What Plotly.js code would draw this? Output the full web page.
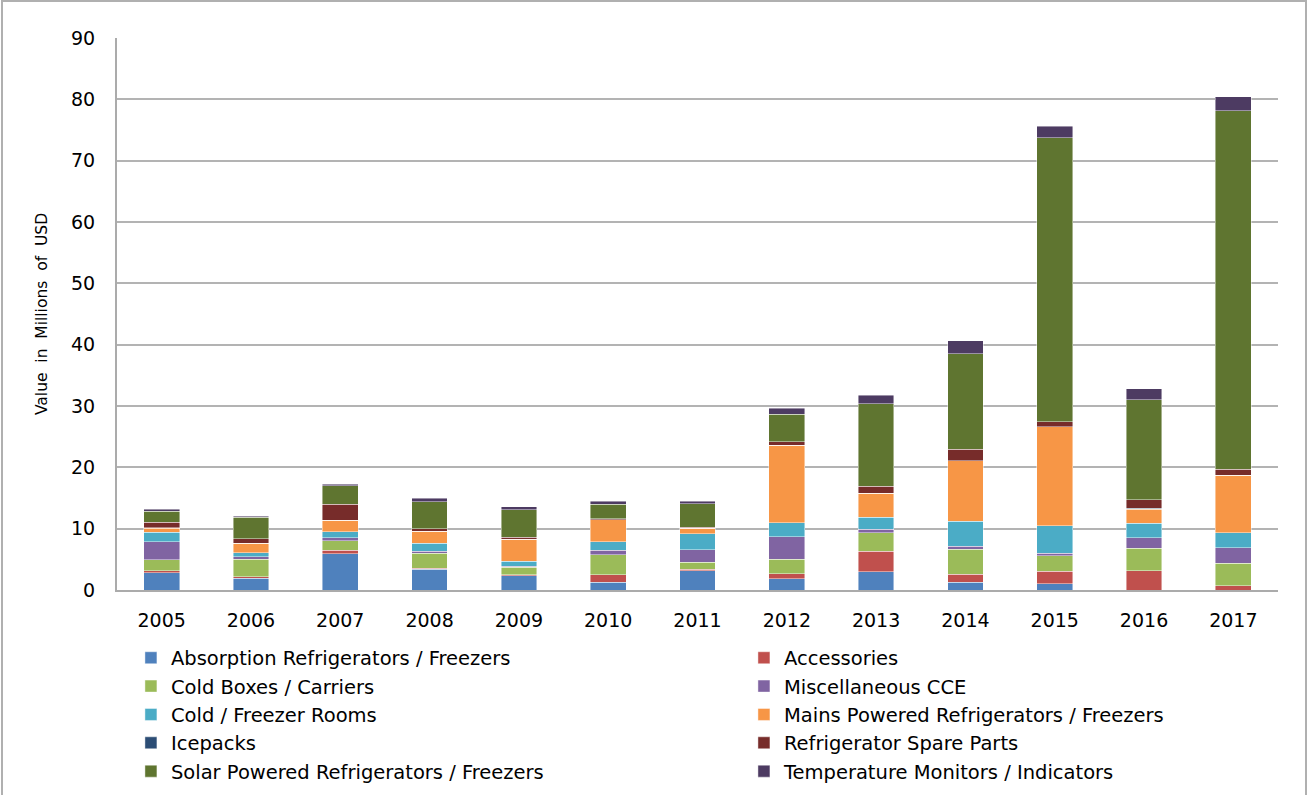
<!DOCTYPE html>
<html>
<head>
<meta charset="utf-8">
<script src="https://cdn.plot.ly/plotly-3.0.1.min.js"></script>
<style>html,body{margin:0;padding:0;background:#fff;}#chart{width:1309px;height:795px;}</style>
</head>
<body>
<div id="chart"></div>
<script>
const years = ["2005","2006","2007","2008","2009","2010","2011","2012","2013","2014","2015","2016","2017"];
const absorption = [2.8, 1.9, 5.9, 3.35, 2.35, 1.25, 3.15, 1.85, 3.0, 1.25, 1.0, 0, 0];
const accessories = [0.3, 0.25, 0.55, 0.2, 0.1, 1.2, 0.25, 0.8, 3.3, 1.3, 2.05, 3.1, 0.7];
const coldBoxes = [1.8, 2.9, 1.55, 2.45, 1.25, 3.3, 1.1, 2.35, 3.05, 4.1, 2.5, 3.7, 3.7];
const miscCCE = [3.0, 0.4, 0.5, 0.35, 0.2, 0.75, 2.05, 3.7, 0.55, 0.45, 0.45, 1.7, 2.5];
const coldRooms = [1.5, 0.65, 1.0, 1.25, 0.8, 1.35, 2.6, 2.3, 1.95, 4.1, 4.45, 2.35, 2.45];
const mainsPowered = [0.65, 1.5, 1.9, 1.95, 3.55, 3.6, 0.9, 12.6, 3.95, 9.85, 16.2, 2.3, 9.35];
const icepacks = [0.1, 0, 0, 0, 0, 0, 0, 0, 0, 0, 0, 0.2, 0];
const spareParts = [0.9, 0.75, 2.55, 0.4, 0.35, 0.15, 0.15, 0.6, 1.15, 1.9, 0.75, 1.35, 1.0];
const solarPowered = [1.75, 3.5, 3.05, 4.45, 4.45, 2.35, 3.9, 4.45, 13.45, 15.6, 46.3, 16.35, 58.4];
const tempMonitors = [0.35, 0.2, 0.25, 0.6, 0.55, 0.55, 0.35, 1.0, 1.35, 2.05, 1.95, 1.75, 2.3];
const yTicks = [0, 10, 20, 30, 40, 50, 60, 70, 80, 90];

const series = [
  ["Absorption Refrigerators / Freezers", absorption, "#4F81BD", "legend"],
  ["Accessories", accessories, "#C0504D", "legend2"],
  ["Cold Boxes / Carriers", coldBoxes, "#9BBB59", "legend"],
  ["Miscellaneous CCE", miscCCE, "#8064A2", "legend2"],
  ["Cold / Freezer Rooms", coldRooms, "#4BACC6", "legend"],
  ["Mains Powered Refrigerators / Freezers", mainsPowered, "#F79646", "legend2"],
  ["Icepacks", icepacks, "#2C4D75", "legend"],
  ["Refrigerator Spare Parts", spareParts, "#772C2A", "legend2"],
  ["Solar Powered Refrigerators / Freezers", solarPowered, "#5F7530", "legend"],
  ["Temperature Monitors / Indicators", tempMonitors, "#4D3B62", "legend2"]
];

const traces = series.map((s, i) => ({
  type: "bar",
  name: s[0],
  x: years,
  y: s[1],
  marker: {color: s[2], line: {color: "rgba(255,255,255,0.55)", width: 0.8}},
  legend: s[3],
  legendgroup: "g" + i,
  hoverinfo: "name+y"
}));

const legendFont = {family: "DejaVu Sans, sans-serif", size: 19.5, color: "#000"};

const layout = {
  width: 1309, height: 795,
  paper_bgcolor: "#fff", plot_bgcolor: "#fff",
  margin: {l: 117, r: 31, t: 38, b: 205, autoexpand: false},
  barmode: "stack",
  bargap: 0.6,
  showlegend: true,
  font: {family: "DejaVu Sans, sans-serif", size: 19, color: "#000"},
  xaxis: {
    type: "category",
    showline: true, linecolor: "#ababab", linewidth: 2,
    ticks: "", ticklabelstandoff: 12,
    tickfont: {family: "DejaVu Sans, sans-serif", size: 19, color: "#000"}
  },
  yaxis: {
    range: [0, 90],
    tickvals: yTicks,
    showline: true, linecolor: "#ababab", linewidth: 2,
    showgrid: true, gridcolor: "#b3b3b3", gridwidth: 2,
    zeroline: false,
    ticks: "", ticklabelstandoff: 16,
    tickfont: {family: "DejaVu Sans, sans-serif", size: 19, color: "#000"},
    title: {text: "Value\u00a0 in\u00a0 Millions\u00a0 of\u00a0 USD", standoff: 20,
            font: {family: "DejaVu Sans, sans-serif", size: 15.5, color: "#000"}}
  },
  legend: {
    x: 0.012, y: -0.088, xanchor: "left", yanchor: "top",
    orientation: "v", traceorder: "grouped", tracegroupgap: 0,
    font: legendFont, bgcolor: "rgba(0,0,0,0)", itemclick: false
  },
  legend2: {
    x: 0.54, y: -0.088, xanchor: "left", yanchor: "top",
    orientation: "v", traceorder: "grouped", tracegroupgap: 0,
    font: legendFont, bgcolor: "rgba(0,0,0,0)", itemclick: false
  },
  shapes: [{
    type: "rect", xref: "paper", yref: "paper",
    x0: (2 - 117) / 1161, x1: (1306 - 117) / 1161,
    y0: (590 - 820) / 552, y1: (590 - 1) / 552,
    line: {color: "#b0b0b0", width: 2}, fillcolor: "rgba(0,0,0,0)", layer: "below"
  }]
};

Plotly.newPlot("chart", traces, layout, {displayModeBar: false, staticPlot: true});
</script>
</body>
</html>
